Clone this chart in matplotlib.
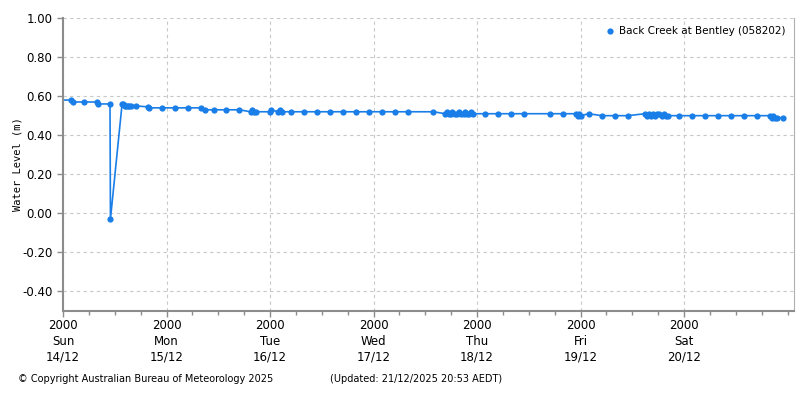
import numpy as np
import pandas as pd
import matplotlib
matplotlib.use("Agg")
import matplotlib.pyplot as plt
import matplotlib.dates as mdates

# Back Creek at Bentley (058202) - water level, hours after 14/12 20:00
horas = [-1.1, 1.9, 2.3, 4.9, 7.9, 8.2, 10.9, 11.0,
         13.7, 13.9, 14.1, 14.4, 14.7, 15.0, 15.3, 15.8, 16.9,
         19.7, 19.9, 22.9, 25.9, 28.9, 31.9, 33.0, 34.9, 37.9, 40.9,
         43.5, 43.9, 44.3, 44.8, 47.9, 48.2, 49.9, 50.3, 50.8,
         52.9, 55.9, 58.9, 61.9, 64.9, 67.9, 70.9, 73.9, 76.9, 79.9, 85.9,
         88.6, 89.0, 89.4, 89.9, 90.3, 90.8, 91.4, 91.9, 92.4, 92.9,
         93.3, 93.7, 94.2, 94.6, 95.0,
         97.9, 100.9, 103.9, 106.9, 112.9, 115.9,
         118.9, 119.3, 119.7, 120.1, 121.9, 124.9, 127.9, 130.9,
         135.0, 135.4, 135.8, 136.3, 136.8, 137.3, 137.8, 138.3, 138.8,
         139.3, 139.8, 140.3,
         142.9, 145.9, 148.9, 151.9, 154.9, 157.9, 160.9,
         163.9, 164.3, 164.7, 165.2, 165.5, 166.9]
nivel = [0.58, 0.58, 0.57, 0.57, 0.57, 0.56, 0.56, -0.03,
         0.56, 0.56, 0.555, 0.55, 0.55, 0.55, 0.55, 0.55, 0.55,
         0.545, 0.54, 0.54, 0.54, 0.54, 0.54, 0.53, 0.53, 0.53, 0.53,
         0.52, 0.53, 0.52, 0.52, 0.52, 0.53, 0.52, 0.53, 0.52,
         0.52, 0.52, 0.52, 0.52, 0.52, 0.52, 0.52, 0.52, 0.52, 0.52, 0.52,
         0.51, 0.52, 0.51, 0.51, 0.52, 0.51, 0.51, 0.52, 0.51, 0.51,
         0.52, 0.51, 0.51, 0.52, 0.51,
         0.51, 0.51, 0.51, 0.51, 0.51, 0.51,
         0.51, 0.50, 0.51, 0.50, 0.51, 0.50, 0.50, 0.50,
         0.51, 0.50, 0.51, 0.50, 0.51, 0.50, 0.51, 0.51, 0.50,
         0.51, 0.50, 0.50,
         0.50, 0.50, 0.50, 0.50, 0.50, 0.50, 0.50,
         0.50, 0.49, 0.50, 0.49, 0.49, 0.49]

inicio = pd.Timestamp("2025-12-14 20:00")
t = inicio + pd.to_timedelta(horas, unit="h")
fin = inicio + pd.Timedelta(hours=169.5)

azul = "#1a7ee8"
gris = "#8c8c8c"

fig = plt.figure(figsize=(8, 4), dpi=100)
ax = fig.add_axes([0.07875, 0.2225, 0.91375, 0.7325])

ax.plot(t, nivel, color=azul, linewidth=1.2, marker="o", markersize=4.5,
        markeredgewidth=0, label="Back Creek at Bentley (058202)")

ax.set_xlim(inicio, fin)
ax.set_ylim(-0.5, 1.0)
ax.set_yticks(np.arange(-0.4, 1.01, 0.2))
ax.yaxis.set_major_formatter(plt.FormatStrFormatter("%.2f"))

ax.xaxis.set_major_locator(plt.FixedLocator(mdates.date2num(pd.date_range(inicio, periods=7, freq="D"))))
ax.xaxis.set_minor_locator(mdates.HourLocator(byhour=[2, 8, 14, 20]))
ax.xaxis.set_major_formatter(mdates.DateFormatter("%H%M\n%a\n%d/%m"))

ax.grid(True, which="major", color="#c8c8c8", linestyle=(0, (3, 3)), linewidth=0.8)
ax.tick_params(axis="both", which="major", labelsize=8.5, color=gris, length=4, width=1)
ax.tick_params(axis="x", which="minor", color=gris, length=3, width=1)
ax.tick_params(axis="x", which="major", pad=2)
for lbl in ax.get_xticklabels():
    lbl.set_linespacing(1.25)

for s in ["left", "bottom"]:
    ax.spines[s].set_color(gris)
    ax.spines[s].set_linewidth(1.5)
ax.spines["right"].set_color("#b0b0b0")
ax.spines["top"].set_visible(False)

ax.set_ylabel("Water Level (m)", fontsize=7.5, family="DejaVu Sans Mono", labelpad=0)

ax.legend(loc="upper right", frameon=False, fontsize=7.5, handlelength=0.8,
          handletextpad=0.5, borderaxespad=0.4,
          markerscale=1.0).get_lines()[0].set_linestyle("none")

fig.text(0.0225, 0.045, "\u00a9 Copyright Australian Bureau of Meteorology 2025", fontsize=7)
fig.text(0.4125, 0.045, "(Updated: 21/12/2025 20:53 AEDT)", fontsize=7)

plt.savefig("out.png")
